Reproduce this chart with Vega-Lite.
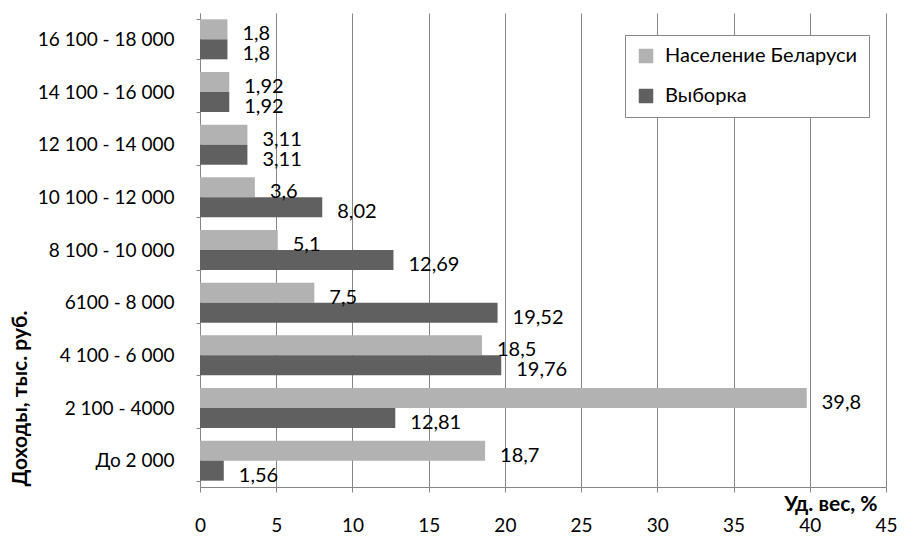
{
  "$schema": "https://vega.github.io/schema/vega-lite/v6.json",
  "autosize": "none",
  "width": 686,
  "height": 474,
  "padding": {"left": 200, "top": 13, "right": 18, "bottom": 49},
  "background": "white",
  "config": {
    "font": "Lato",
    "view": {"stroke": null},
    "locale": {"number": {"decimal": ",", "thousands": " ", "grouping": [3], "currency": ["", ""]}}
  },
  "data": {
    "values": [
      {"cat": "16  100 - 18 000", "series": "Население Беларуси", "value": 1.8},
      {"cat": "16  100 - 18 000", "series": "Выборка", "value": 1.8},
      {"cat": "14 100  - 16 000", "series": "Население Беларуси", "value": 1.92},
      {"cat": "14 100  - 16 000", "series": "Выборка", "value": 1.92},
      {"cat": "12 100 - 14 000", "series": "Население Беларуси", "value": 3.11},
      {"cat": "12 100 - 14 000", "series": "Выборка", "value": 3.11},
      {"cat": "10 100   - 12 000", "series": "Население Беларуси", "value": 3.6},
      {"cat": "10 100   - 12 000", "series": "Выборка", "value": 8.02},
      {"cat": "8  100  - 10 000", "series": "Население Беларуси", "value": 5.1},
      {"cat": "8  100  - 10 000", "series": "Выборка", "value": 12.69},
      {"cat": "6100  - 8  000", "series": "Население Беларуси", "value": 7.5},
      {"cat": "6100  - 8  000", "series": "Выборка", "value": 19.52},
      {"cat": "4 100   - 6 000", "series": "Население Беларуси", "value": 18.5},
      {"cat": "4 100   - 6 000", "series": "Выборка", "value": 19.76},
      {"cat": "2 100 - 4000", "series": "Население Беларуси", "value": 39.8},
      {"cat": "2 100 - 4000", "series": "Выборка", "value": 12.81},
      {"cat": "До 2 000", "series": "Население Беларуси", "value": 18.7},
      {"cat": "До 2 000", "series": "Выборка", "value": 1.56}
    ]
  },
  "encoding": {
    "y": {
      "field": "cat", "type": "nominal", "sort": null,
      "scale": {"paddingInner": 0.24, "paddingOuter": 0.12},
      "axis": {
        "title": "Доходы, тыс. руб.",
        "titleFontSize": 21, "titleFontWeight": "bold", "titleColor": "black",
        "titleX": -180, "titleY": 385, "titleAlign": "center", "titleBaseline": "middle", "titleAngle": -90,
        "labelFontSize": 19, "labelColor": "black", "labelPadding": 22,
        "tickBand": "extent", "ticks": true, "tickSize": 4, "tickColor": "#868686",
        "domainColor": "#868686", "grid": false
      }
    },
    "yOffset": {"field": "series", "type": "nominal", "sort": ["Население Беларуси", "Выборка"], "scale": {"paddingInner": 0, "paddingOuter": 0}},
    "x": {
      "field": "value", "type": "quantitative",
      "scale": {"domain": [0, 45], "nice": false},
      "axis": {
        "values": [0, 5, 10, 15, 20, 25, 30, 35, 40, 45],
        "title": "Уд. вес, %",
        "titleFontSize": 21, "titleFontWeight": "bold", "titleColor": "black",
        "titleX": 677, "titleY": 17, "titleAlign": "right", "titleBaseline": "middle", "titleAnchor": "end",
        "labelFontSize": 19, "labelColor": "black", "labelPadding": 24, "labelFlush": false,
        "tickSize": 5, "tickColor": "#868686", "domainColor": "#868686",
        "grid": true, "gridColor": "#868686", "gridWidth": 1
      }
    }
  },
  "layer": [
    {
      "mark": {"type": "bar"},
      "encoding": {
        "color": {
          "field": "series", "type": "nominal",
          "sort": ["Население Беларуси", "Выборка"],
          "scale": {"domain": ["Население Беларуси", "Выборка"], "range": ["#b2b2b2", "#606060"]},
          "legend": {
            "title": null, "orient": "none", "legendX": 425, "legendY": 22,
            "direction": "vertical",
            "symbolType": "square", "symbolSize": 210, "symbolStrokeWidth": 0,
            "labelFontSize": 20, "labelColor": "black", "labelOffset": 9, "labelLimit": 0,
            "rowPadding": 20, "padding": 11,
            "fillColor": "white", "strokeColor": "#868686"
          }
        }
      }
    },
    {
      "mark": {"type": "text", "align": "left", "baseline": "middle", "dx": 15, "dy": 5, "fontSize": 20, "color": "black"},
      "encoding": {
        "text": {"field": "value", "type": "quantitative", "format": ".2~f"}
      }
    }
  ]
}
